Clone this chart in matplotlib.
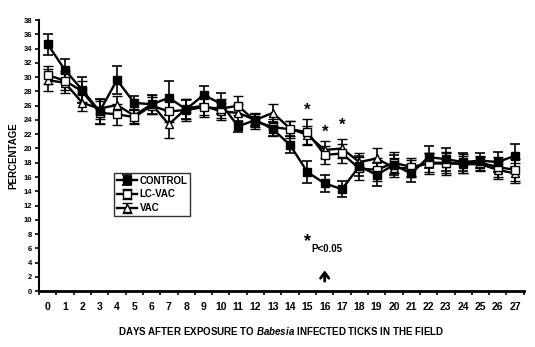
import numpy as np
import matplotlib
matplotlib.use('Agg')
import matplotlib.pyplot as plt

plt.rcParams['font.family'] = ['Liberation Sans', 'DejaVu Sans']
plt.rcParams['font.weight'] = 'bold'
plt.rcParams['mathtext.fontset'] = 'custom'
plt.rcParams['mathtext.it'] = 'Liberation Sans:italic:bold'
plt.rcParams['mathtext.rm'] = 'Liberation Sans:bold'

days = list(range(28))

control = [34.6, 31.0, 28.2, 25.2, 29.6, 26.4, 26.2, 27.1, 25.5, 27.5, 26.3, 23.1, 24.0, 22.7,
           20.5, 16.7, 15.1, 14.3, 17.5, 16.3, 17.7, 16.5, 18.8, 18.5, 18.1, 18.3, 18.1, 19.0]
control_err = [1.5, 1.5, 1.8, 1.7, 1.9, 1.0, 1.3, 2.4, 1.3, 1.2, 1.5, 0.8, 0.9, 1.0,
               1.2, 1.6, 1.2, 1.1, 1.4, 1.6, 1.4, 1.2, 1.5, 1.6, 1.3, 1.0, 1.4, 1.6]

lcvac = [30.3, 29.5, 28.0, 25.0, 24.8, 24.4, 26.0, 25.2, 25.4, 25.8, 25.6, 26.0, 23.8, 23.0,
         22.7, 22.3, 19.1, 19.3, 17.2, 17.0, 18.0, 17.4, 17.9, 17.9, 17.9, 18.0, 17.4, 17.0]
lcvac_err = [1.2, 1.3, 1.5, 1.6, 1.5, 1.0, 1.2, 1.5, 1.5, 1.4, 1.3, 1.3, 1.0, 1.2,
             1.2, 1.8, 1.3, 1.3, 1.6, 1.6, 1.5, 1.3, 1.5, 1.6, 1.3, 1.0, 1.4, 1.5]

vac = [29.6, 29.2, 26.4, 25.6, 26.1, 24.6, 26.2, 23.4, 25.6, 26.0, 25.2, 25.0, 24.0, 25.0,
       22.8, 21.9, 19.8, 20.0, 18.1, 18.6, 17.3, 17.2, 18.0, 18.0, 17.8, 17.8, 17.0, 16.5]
vac_err = [1.5, 1.4, 1.2, 1.4, 1.3, 1.0, 1.3, 1.9, 1.4, 1.3, 1.2, 1.2, 1.0, 1.3,
           1.0, 1.2, 1.2, 1.4, 1.3, 1.4, 1.3, 1.2, 1.3, 1.4, 1.2, 1.0, 1.3, 1.4]

star_days = [15, 16, 17]
star_y = [25.4, 22.3, 23.3]

fig = plt.figure(figsize=(5.35, 3.47), dpi=100)
ax = fig.add_axes([0.073, 0.161, 0.906, 0.781])

err_kw = dict(ecolor='black', elinewidth=1.2, capsize=3.5, capthick=1.2)
ax.errorbar(days, vac, yerr=vac_err, color='black', lw=1.7, marker='^', ms=5.5,
            mfc='white', mec='black', mew=1, label='VAC', **err_kw)
ax.errorbar(days, lcvac, yerr=lcvac_err, color='black', lw=1.7, marker='s', ms=5.5,
            mfc='white', mec='black', mew=1, label='LC-VAC', **err_kw)
ax.errorbar(days, control, yerr=control_err, color='black', lw=1.7, marker='s', ms=6,
            mfc='black', mec='black', label='CONTROL', **err_kw)

for d, y in zip(star_days, star_y):
    ax.text(d, y, '*', ha='center', va='center', fontsize=12, fontweight='bold')

ax.text(15.0, 6.9, '*', ha='center', va='center', fontsize=13, fontweight='bold')
ax.text(15.25, 5.9, 'P<0.05', ha='left', va='center', fontsize=7, fontweight='bold')
ax.annotate('', xy=(16, 3.3), xytext=(16, 1.0),
            arrowprops=dict(arrowstyle='->,head_width=0.3,head_length=0.4', lw=2,
                            color='black'))

ax.set_xlim(-0.5, 27.5)
ax.set_ylim(0, 38)
ax.set_xticks(days)
ax.set_xticks(np.arange(-0.5, 28, 1), minor=True)
ax.set_yticks(range(0, 39, 2))
ax.tick_params(axis='x', which='major', length=0, labelsize=7.5, pad=8)
ax.tick_params(axis='x', which='minor', length=3, width=1.2, direction='out')
ax.tick_params(axis='y', length=3, width=1.2, direction='out', labelsize=5.5, pad=2)
for lab in ax.get_xticklabels() + ax.get_yticklabels():
    lab.set_fontweight('bold')

ax.spines['top'].set_visible(False)
ax.spines['right'].set_visible(False)
ax.spines['left'].set_linewidth(1.5)
ax.spines['bottom'].set_linewidth(2)

ax.set_ylabel('PERCENTAGE', fontsize=7, fontweight='bold', labelpad=4)
ax.set_xlabel(r'DAYS AFTER EXPOSURE TO $\mathit{Babesia}\ $INFECTED TICKS IN THE FIELD',
              fontsize=7, fontweight='bold', labelpad=9)

handles, labels = ax.get_legend_handles_labels()
leg = ax.legend(handles[::-1], labels[::-1], loc='upper left', bbox_to_anchor=(0.145, 0.455),
                frameon=True, fancybox=False, edgecolor='black', fontsize=7,
                handlelength=2, handletextpad=0.3, borderpad=0.3, labelspacing=0.4)
leg.get_frame().set_linewidth(1)
for t in leg.get_texts():
    t.set_fontweight('bold')

fig.savefig('out.png', dpi=100)
